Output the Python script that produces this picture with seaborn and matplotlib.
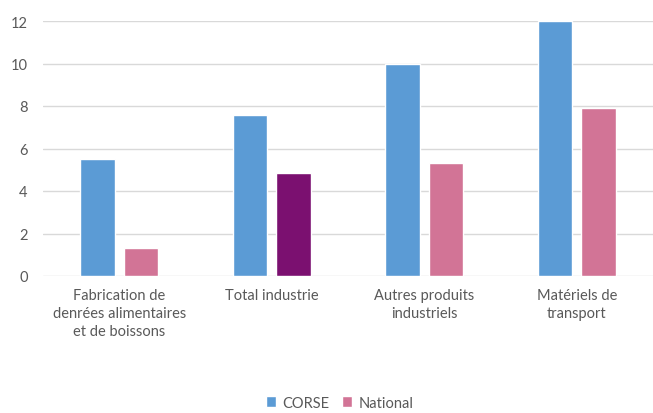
import matplotlib
matplotlib.use("Agg")
import matplotlib.pyplot as plt
import seaborn as sns
import pandas as pd

categories = ["Fabrication de\ndenrées alimentaires\net de boissons",
              "Total industrie",
              "Autres produits\nindustriels",
              "Matériels de\ntransport"]
corse = [5.5, 7.6, 10.0, 12.0]
national = [1.3, 4.85, 5.3, 7.9]
series = ["CORSE", "National"]
yticks = [0, 2, 4, 6, 8, 10, 12]

blue = "#5B9BD5"
pink = "#D27496"
purple = "#7B1070"
textc = "#595959"

df = pd.DataFrame({
    "cat": categories * 2,
    "serie": [series[0]] * 4 + [series[1]] * 4,
    "val": corse + national,
})

sns.set_style("white")
plt.rcParams["font.family"] = ["Lato", "DejaVu Sans"]

fig = plt.figure(figsize=(6.53, 4.14), dpi=100)
ax = fig.add_axes([43 / 653, (414 - 277) / 414, 610 / 653, 255 / 414])

sns.barplot(data=df, x="cat", y="val", hue="serie", order=categories,
            hue_order=series, palette=[blue, pink], width=0.57, gap=0.2,
            ax=ax, legend=False, saturation=1)

# Highlight "Total industrie" national bar
nat_patches = ax.patches[4:8]
nat_patches[1].set_facecolor(purple)

ax.set_ylim(0, 12)
ax.set_xlim(-0.5, 3.5)
ax.set_yticks(yticks)
ax.set_yticklabels([str(t) for t in yticks], color=textc, fontsize=10.5)
ax.tick_params(axis="x", colors=textc, labelsize=10.5, length=0, pad=9)
ax.tick_params(axis="y", length=0, pad=11)
ax.set_xlabel("")
ax.set_ylabel("")
ax.grid(axis="y", color="#D9D9D9", linewidth=1)
ax.set_axisbelow(True)
for s in ax.spines.values():
    s.set_visible(False)
for lbl in ax.get_xticklabels():
    lbl.set_linespacing(1.35)

from matplotlib.patches import Patch
handles = [Patch(facecolor=blue, label=series[0]), Patch(facecolor=pink, label=series[1])]
fig.legend(handles=handles, loc="center", bbox_to_anchor=(0.52, 0.025), ncol=2,
           frameon=False, fontsize=10.5, labelcolor=textc, handlelength=0.7,
           handleheight=0.7, handletextpad=0.4, columnspacing=0.9,
           borderpad=0.1)

fig.savefig("out.png", dpi=100)
